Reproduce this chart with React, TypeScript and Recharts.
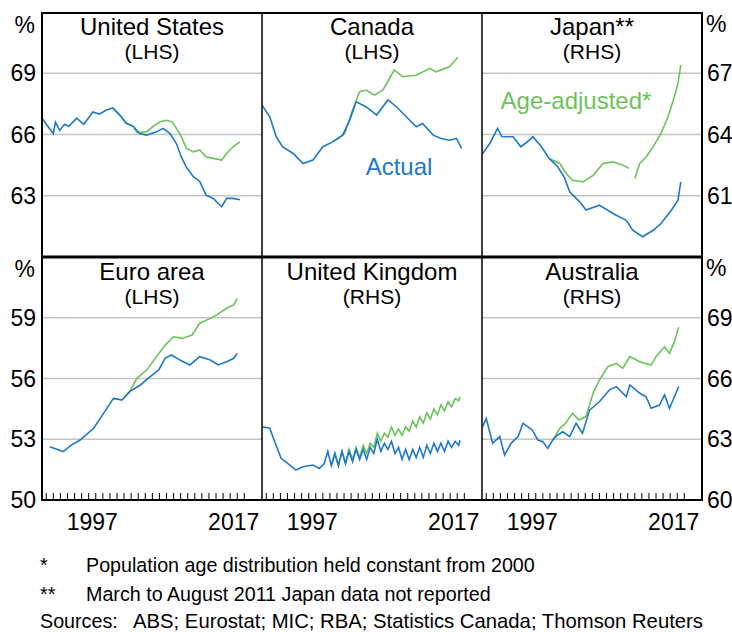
import { LineChart, Line, XAxis, YAxis, CartesianGrid } from 'recharts';

type Pt = [number, number | null];

const FONT = '"Liberation Sans", Arial, sans-serif';
const BLUE = '#1f78c8';
const GREEN = '#6cc35a';

const X_DOMAIN: [number, number] = [1990.4, 2021.5];
const YEAR_TICKS = [
  1991, 1992, 1993, 1994, 1995, 1996, 1997, 1998, 1999, 2000, 2001, 2002, 2003, 2004, 2005,
  2006, 2007, 2008, 2009, 2010, 2011, 2012, 2013, 2014, 2015, 2016, 2017, 2018, 2019,
];
const LABEL_YEARS = [1997, 2017];

const TOP_LHS_TICKS = [63, 66, 69];
const TOP_RHS_TICKS = [61, 64, 67];
const BOTTOM_LHS_TICKS = [50, 53, 56, 59];
const BOTTOM_RHS_TICKS = [60, 63, 66, 69];

// participation rates, % (year, value)
const US_ACTUAL: Pt[] = [
  [1990.4, 66.8], [1991.0, 66.5], [1992.0, 66.05], [1992.3, 66.6], [1992.9, 66.2], [1993.6, 66.5],
  [1994.2, 66.4], [1995.3, 66.8], [1996.3, 66.5], [1997.6, 67.1], [1998.5, 67.0], [1999.5, 67.2],
  [2000.4, 67.3], [2001.4, 66.95], [2002.3, 66.55], [2003.3, 66.4], [2004.2, 66.05], [2005.2, 65.97],
  [2006.6, 66.13], [2007.5, 66.3], [2008.5, 66.05], [2009.4, 65.56], [2010.1, 64.9], [2010.8, 64.4],
  [2011.8, 63.93], [2012.7, 63.7], [2013.6, 63.03], [2014.6, 62.87], [2015.8, 62.46], [2016.5, 62.87],
  [2017.4, 62.87], [2018.4, 62.8],
];
const US_ADJUSTED: Pt[] = [
  [2000.4, 67.3], [2001.4, 66.95], [2002.3, 66.55], [2003.3, 66.4], [2003.8, 66.1], [2005.2, 66.13],
  [2006.1, 66.4], [2007.1, 66.62], [2008.0, 66.7], [2008.8, 66.62], [2009.4, 66.3], [2010.1, 65.9],
  [2010.8, 65.32], [2011.8, 65.15], [2012.7, 65.24], [2013.6, 64.9], [2014.6, 64.83], [2015.8, 64.75],
  [2016.5, 65.07], [2017.4, 65.4], [2018.4, 65.64],
];

const CA_ACTUAL: Pt[] = [
  [1990.4, 67.44], [1991.5, 66.87], [1992.4, 65.9], [1993.3, 65.4], [1994.8, 65.07], [1996.2, 64.58],
  [1997.6, 64.75], [1999.0, 65.4], [2000.4, 65.64], [2001.8, 65.97], [2002.8, 66.7], [2003.7, 67.6],
  [2005.1, 67.36], [2006.6, 66.95], [2008.2, 67.69], [2009.4, 67.36], [2010.8, 66.87], [2012.2, 66.38],
  [2013.1, 66.54], [2014.6, 65.97], [2015.7, 65.8], [2016.9, 65.72], [2017.9, 65.8], [2018.6, 65.32],
];
const CA_ADJUSTED: Pt[] = [
  [2000.4, 65.64], [2001.8, 65.97], [2002.1, 66.05], [2003.2, 67.2], [2004.2, 68.1], [2005.1, 68.18],
  [2006.3, 67.93], [2007.5, 68.18], [2009.1, 69.16], [2010.3, 68.83], [2012.2, 68.9], [2014.1, 69.24],
  [2015.0, 69.07], [2016.9, 69.32], [2018.1, 69.78],
];

const JP_ACTUAL: Pt[] = [
  [1990.5, 63.07], [1991.5, 63.56], [1992.6, 64.3], [1993.2, 63.9], [1993.8, 63.89], [1994.8, 63.89],
  [1995.9, 63.4], [1997.0, 63.7], [1997.6, 63.89], [1998.8, 63.4], [1999.9, 62.83], [2001.1, 62.42],
  [2002.0, 61.93], [2002.8, 61.19], [2004.2, 60.7], [2005.1, 60.3], [2007.0, 60.54], [2008.9, 60.13],
  [2010.8, 59.8], [2011.7, 59.31], [2013.1, 58.99], [2014.6, 59.31],
  [2015.7, 59.64], [2017.2, 60.3], [2018.1, 60.78], [2018.5, 61.68],
];
const JP_ADJUSTED: Pt[] = [
  [2000.0, 62.8], [2001.4, 62.58], [2002.3, 62.09], [2003.2, 61.76], [2004.7, 61.68], [2006.1, 62.0],
  [2007.5, 62.58], [2008.9, 62.66], [2010.3, 62.5], [2011.2, 62.34], [2011.6, null], [2012.0, 61.85],
  [2012.7, 62.58], [2013.6, 62.9], [2014.6, 63.4], [2015.7, 64.05], [2016.7, 64.87], [2017.6, 65.85],
  [2018.1, 66.5], [2018.5, 67.4],
];

const EA_ACTUAL: Pt[] = [
  [1991.5, 52.63], [1993.4, 52.39], [1994.6, 52.72], [1995.8, 52.96], [1997.7, 53.54], [1999.1, 54.28],
  [2000.5, 55.02], [2001.7, 54.94], [2002.8, 55.35], [2004.3, 55.68], [2005.7, 56.09], [2006.9, 56.42],
  [2007.8, 57.0], [2008.7, 57.16], [2009.9, 56.91], [2011.3, 56.67], [2012.7, 57.08], [2014.2, 56.91],
  [2015.3, 56.67], [2016.5, 56.83], [2017.5, 57.0], [2018.0, 57.24],
];
const EA_ADJUSTED: Pt[] = [
  [2000.5, 55.02], [2001.7, 54.94], [2002.8, 55.35], [2003.8, 56.01], [2005.2, 56.42], [2006.6, 57.08],
  [2007.8, 57.65], [2009.0, 58.06], [2010.2, 57.98], [2011.6, 58.15], [2012.7, 58.73], [2014.2, 58.97],
  [2015.1, 59.14], [2016.5, 59.47], [2017.5, 59.63], [2018.0, 59.96],
];

const UK_ACTUAL: Pt[] = [
  [1990.4, 63.62], [1991.5, 63.54], [1992.2, 62.88], [1993.1, 62.06], [1994.3, 61.73], [1995.2, 61.48],
  [1996.2, 61.64], [1997.6, 61.73], [1998.5, 61.56], [1999.2, 61.8], [1999.7, 62.4], [2000.2, 61.7],
  [2000.7, 62.3], [2001.2, 61.7], [2001.7, 62.4], [2002.2, 61.8], [2002.7, 62.4], [2003.2, 61.9],
  [2003.7, 62.5], [2004.2, 62.0], [2004.7, 62.5], [2005.2, 62.0], [2005.7, 62.6], [2006.2, 62.3],
  [2006.7, 63.0], [2007.2, 62.4], [2007.7, 62.8], [2008.2, 62.5], [2008.7, 62.9], [2009.2, 62.3],
  [2009.7, 62.6], [2010.2, 62.0], [2010.7, 62.5], [2011.2, 62.0], [2011.7, 62.5], [2012.2, 62.1],
  [2012.7, 62.6], [2013.2, 62.1], [2013.7, 62.7], [2014.2, 62.3], [2014.7, 62.8], [2015.2, 62.4],
  [2015.7, 62.8], [2016.2, 62.4], [2016.7, 62.9], [2017.2, 62.6], [2017.7, 62.9], [2018.2, 62.7],
  [2018.4, 62.95],
];
const UK_ADJUSTED: Pt[] = [
  [2000.2, 61.7], [2000.7, 62.3], [2001.2, 61.7], [2001.7, 62.4], [2002.2, 61.8], [2002.7, 62.5],
  [2003.2, 62.0], [2003.7, 62.6], [2004.2, 62.1], [2004.7, 62.7], [2005.2, 62.3], [2005.7, 62.8],
  [2006.2, 62.6], [2006.7, 63.3], [2007.2, 62.9], [2007.7, 63.3], [2008.2, 63.1], [2008.7, 63.6],
  [2009.2, 63.2], [2009.7, 63.5], [2010.2, 63.2], [2010.7, 63.6], [2011.2, 63.4], [2011.7, 63.9],
  [2012.2, 63.6], [2012.7, 64.1], [2013.2, 63.8], [2013.7, 64.3], [2014.2, 64.0], [2014.7, 64.5],
  [2015.2, 64.2], [2015.7, 64.7], [2016.2, 64.4], [2016.7, 64.85], [2017.2, 64.6], [2017.7, 65.0],
  [2018.2, 64.9], [2018.4, 65.1],
];

const AU_ACTUAL: Pt[] = [
  [1990.5, 63.62], [1991.0, 64.03], [1991.9, 62.8], [1992.9, 63.13], [1993.6, 62.22], [1994.5, 62.8],
  [1995.5, 63.13], [1996.2, 63.79], [1997.5, 63.46], [1998.3, 62.96], [1999.0, 62.88], [1999.7, 62.55],
  [2000.4, 62.96], [2001.1, 63.21], [2001.8, 63.37], [2002.8, 63.13], [2003.7, 63.79], [2004.6, 63.29],
  [2005.6, 64.44], [2007.0, 64.85], [2008.4, 65.43], [2009.4, 65.6], [2010.8, 65.1], [2011.3, 65.68],
  [2012.7, 65.27], [2013.6, 65.1], [2014.3, 64.53], [2015.5, 64.69], [2016.2, 65.19], [2016.9, 64.53],
  [2017.6, 65.1], [2018.2, 65.6],
];
const AU_ADJUSTED: Pt[] = [
  [2000.4, 62.96], [2001.4, 63.54], [2002.2, 63.79], [2003.2, 64.28], [2004.1, 63.95], [2005.1, 64.12],
  [2006.1, 65.27], [2007.0, 65.93], [2008.2, 66.58], [2009.4, 66.75], [2010.3, 66.5], [2011.3, 67.08],
  [2012.7, 66.83], [2014.3, 66.66], [2015.0, 67.08], [2016.2, 67.57], [2016.9, 67.24], [2017.6, 67.82],
  [2018.2, 68.53],
];

const rows = (pts: Pt[]) => pts.map(([t, v]) => ({ t, v }));

const COL_X = [42, 262, 482];
const PLOT_W = 220;

const panels = [
  { title: 'United States', side: '(LHS)', actual: US_ACTUAL, adjusted: US_ADJUSTED, domain: [60, 72], ticks: TOP_LHS_TICKS, col: 0, row: 0 },
  { title: 'Canada', side: '(LHS)', actual: CA_ACTUAL, adjusted: CA_ADJUSTED, domain: [60, 72], ticks: TOP_LHS_TICKS, col: 1, row: 0 },
  { title: 'Japan**', side: '(RHS)', actual: JP_ACTUAL, adjusted: JP_ADJUSTED, domain: [58, 70], ticks: TOP_RHS_TICKS, col: 2, row: 0 },
  { title: 'Euro area', side: '(LHS)', actual: EA_ACTUAL, adjusted: EA_ADJUSTED, domain: [50, 62], ticks: BOTTOM_LHS_TICKS, col: 0, row: 1 },
  { title: 'United Kingdom', side: '(RHS)', actual: UK_ACTUAL, adjusted: UK_ADJUSTED, domain: [60, 72], ticks: BOTTOM_RHS_TICKS, col: 1, row: 1 },
  { title: 'Australia', side: '(RHS)', actual: AU_ACTUAL, adjusted: AU_ADJUSTED, domain: [60, 72], ticks: BOTTOM_RHS_TICKS, col: 2, row: 1 },
];

type PanelDef = (typeof panels)[number];

const tickFont = { fontSize: 23, fill: '#000', fontFamily: FONT };

// year ticks point inward from the axis; the two labels sit mid-year
function YearTick(props: any) {
  const { x, y, payload } = props;
  const v = payload.value as number;
  if (Number.isInteger(v)) {
    return <line x1={x} x2={x} y1={y} y2={y - 7} stroke="#000" strokeWidth={1} />;
  }
  return (
    <text x={x} y={y + 30} textAnchor="middle" fontSize={23} fontFamily={FONT} fill="#000">
      {Math.floor(v)}
    </text>
  );
}

function Panel({ p }: { p: PanelDef }) {
  const yw = p.col === 0 ? 42 : p.col === 2 ? 30 : 0;
  const left = p.col === 0 ? 0 : COL_X[p.col];
  const bottomRow = p.row === 1;
  const top = bottomRow ? 257 : 12;
  const height = bottomRow ? 243 + 40 : 245;
  return (
    <div style={{ position: 'absolute', left, top }}>
      <LineChart width={PLOT_W + yw} height={height} margin={{ top: 0, right: 0, bottom: 0, left: 0 }}>
        <CartesianGrid vertical={false} stroke="#c4c4c4" strokeWidth={1.5} />
        <XAxis
          type="number"
          dataKey="t"
          domain={X_DOMAIN}
          allowDataOverflow
          ticks={[...YEAR_TICKS, ...LABEL_YEARS.map((y) => y + 0.5)]}
          interval={0}
          height={bottomRow ? 40 : 0}
          hide={!bottomRow}
          tick={<YearTick />}
          tickSize={0}
          tickMargin={0}
          axisLine={false}
          tickLine={false}
        />
        <YAxis
          type="number"
          domain={p.domain}
          allowDataOverflow
          ticks={p.ticks}
          interval={0}
          orientation={p.col === 2 ? 'right' : 'left'}
          width={yw}
          axisLine={false}
          tickLine={false}
          tickSize={0}
          tickMargin={p.col === 2 ? 5 : 6}
          tick={p.col === 1 ? false : tickFont}
        />
        <Line
          data={rows(p.adjusted)}
          dataKey="v"
          type="linear"
          stroke={GREEN}
          strokeWidth={1.6}
          dot={false}
          connectNulls={false}
          isAnimationActive={false}
        />
        <Line
          data={rows(p.actual)}
          dataKey="v"
          type="linear"
          stroke={BLUE}
          strokeWidth={1.6}
          dot={false}
          connectNulls={false}
          isAnimationActive={false}
        />
      </LineChart>
    </div>
  );
}

export default function App() {
  return (
    <div style={{ position: 'absolute', left: 0, top: 0, width: 732, height: 632, background: '#fff', overflow: 'hidden' }}>
      {panels.map((p) => (
        <Panel key={p.title} p={p} />
      ))}
      <svg width={732} height={632} style={{ position: 'absolute', left: 0, top: 0, pointerEvents: 'none' }} fontFamily={FONT}>
        <rect x={42} y={13} width={660} height={487} fill="none" stroke="#000" strokeWidth={2} />
        <line x1={42} x2={702} y1={257} y2={257} stroke="#000" strokeWidth={3} />
        <line x1={262} x2={262} y1={13} y2={500} stroke="#000" strokeWidth={1.5} />
        <line x1={482} x2={482} y1={13} y2={500} stroke="#000" strokeWidth={1.5} />

        {panels.map((p) => {
          const cx = COL_X[p.col] + PLOT_W / 2;
          const base = p.row === 1 ? 245 : 0;
          return (
            <g key={p.title}>
              <text x={cx} y={35 + base} textAnchor="middle" fontSize={24} fill="#000">{p.title}</text>
              <text x={cx} y={59 + base} textAnchor="middle" fontSize={21} fill="#000">{p.side}</text>
            </g>
          );
        })}

        <text x={35} y={33} textAnchor="end" fontSize={23} fill="#000">%</text>
        <text x={35} y={277} textAnchor="end" fontSize={23} fill="#000">%</text>
        <text x={706} y={32} fontSize={23} fill="#000">%</text>
        <text x={706} y={276} fontSize={23} fill="#000">%</text>

        <text x={399} y={175} textAnchor="middle" fontSize={24} fill={BLUE}>Actual</text>
        <text x={576} y={109} textAnchor="middle" fontSize={24} fill={GREEN}>Age-adjusted*</text>

        <text x={40} y={572} fontSize={19.7} fill="#000">*</text>
        <text x={86} y={572} fontSize={19.7} fill="#000">Population age distribution held constant from 2000</text>
        <text x={40} y={601} fontSize={19.7} fill="#000">**</text>
        <text x={86} y={601} fontSize={19.7} fill="#000">March to August 2011 Japan data not reported</text>
        <text x={40} y={628} fontSize={19.7} fill="#000">Sources:</text>
        <text x={133} y={628} fontSize={20.3} fill="#000">ABS; Eurostat; MIC; RBA; Statistics Canada; Thomson Reuters</text>
      </svg>
    </div>
  );
}
